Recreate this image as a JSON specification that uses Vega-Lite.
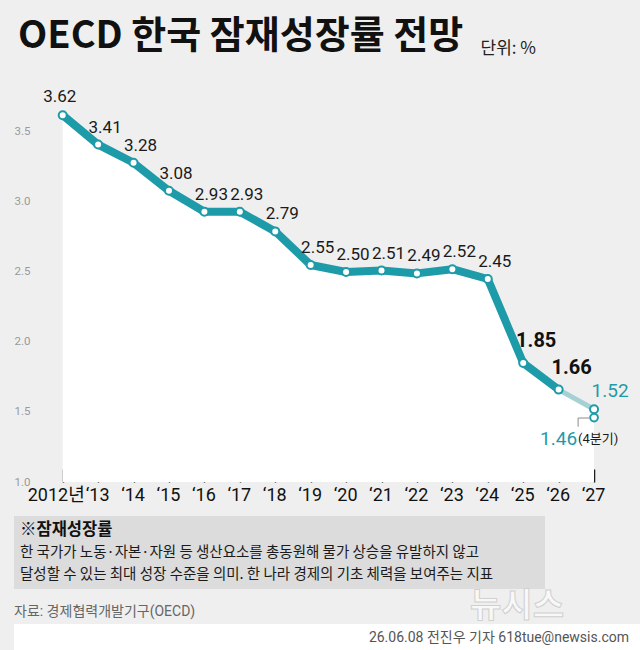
{
  "$schema": "https://vega.github.io/schema/vega-lite/v6.json",
  "background": "#efefef",
  "padding": {"left": 14, "right": 0, "top": 18, "bottom": 0},
  "config": {"view": {"stroke": null}},
  "datasets": {
    "series": [
      {"year": 2012, "value": 3.62},
      {"year": 2013, "value": 3.41},
      {"year": 2014, "value": 3.28},
      {"year": 2015, "value": 3.08},
      {"year": 2016, "value": 2.93},
      {"year": 2017, "value": 2.93},
      {"year": 2018, "value": 2.79},
      {"year": 2019, "value": 2.55},
      {"year": 2020, "value": 2.50},
      {"year": 2021, "value": 2.51},
      {"year": 2022, "value": 2.49},
      {"year": 2023, "value": 2.52},
      {"year": 2024, "value": 2.45},
      {"year": 2025, "value": 1.85},
      {"year": 2026, "value": 1.66},
      {"year": 2027, "value": 1.52}
    ],
    "q4": [
      {"year": 2027, "value": 1.46, "note": "(4분기)"}
    ],
    "leader": [
      {"year": 2026.86, "value": 1.457, "ord": 1},
      {"year": 2026.55, "value": 1.457, "ord": 2},
      {"year": 2026.55, "value": 1.395, "ord": 3}
    ],
    "grid": [
      {"value": 1.5}, {"value": 2.0}, {"value": 2.5}, {"value": 3.0}, {"value": 3.5}
    ]
  },
  "concat": [
    {
      "width": 613,
      "height": 400,
      "title": {
        "text": "OECD 한국 잠재성장률 전망",
        "anchor": "start",
        "font": "Noto Sans CJK KR",
        "fontSize": 38,
        "fontWeight": "bold",
        "color": "#111111",
        "offset": -17,
        "dx": 4
      },
      "data": {"name": "series"},
      "encoding": {
        "x": {
          "field": "year",
          "type": "quantitative",
          "scale": {"domain": [2010.625, 2027.93], "nice": false, "zero": false},
          "axis": {
            "values": [2012, 2013, 2014, 2015, 2016, 2017, 2018, 2019, 2020, 2021, 2022, 2023, 2024, 2025, 2026, 2027],
            "labelExpr": "datum.value == 2012 ? '2012년' : '‘' + slice(toString(datum.value), 2)",
            "title": " ",
            "titleFontSize": 1,
            "titlePadding": 11,
            "grid": false,
            "domain": false,
            "ticks": true,
            "tickColor": "#111111",
            "tickWidth": 1.5,
            "tickSize": -13,
            "labelPadding": 17,
            "labelOffset": {"condition": {"test": "datum.value == 2012", "value": -7}, "value": -1},
            "labelFont": "Roboto, Noto Sans CJK KR, sans-serif",
            "labelFontSize": 18,
            "labelColor": "#111111",
            "labelFlush": false,
            "labelOverlap": false
          }
        },
        "y": {
          "field": "value",
          "type": "quantitative",
          "scale": {"domain": [1, 3.857], "nice": false, "zero": false},
          "axis": {
            "values": [1, 1.5, 2, 2.5, 3, 3.5],
            "format": ".1f",
            "offset": -21,
            "title": "단위: %",
            "titleAngle": 0,
            "titleX": 445,
            "titleY": -34,
            "titleAlign": "left",
            "titleBaseline": "middle",
            "titleFont": "Noto Sans CJK KR",
            "titleFontSize": 17,
            "titleFontWeight": "normal",
            "titleColor": "#222222",
            "domain": false,
            "ticks": false,
            "grid": false,
            "labelPadding": 5,
            "labelFont": "Roboto, sans-serif",
            "labelFontSize": 11.5,
            "labelColor": "#9a9a9a"
          }
        }
      },
      "layer": [
        {
          "mark": {"type": "area", "color": "#ffffff", "opacity": 1},
          "encoding": {"y2": {"datum": 1}}
        },
        {
          "data": {"name": "grid"},
          "mark": {"type": "rule", "color": "#aaaaaa", "strokeWidth": 1, "strokeDash": [4, 3]},
          "encoding": {"x": {"datum": 2011.218}, "x2": {"datum": 2027.93}}
        },
        {
          "data": {"values": [{"value": 1}]},
          "mark": {"type": "rule", "color": "#111111", "strokeWidth": 2},
          "encoding": {"x": {"datum": 2011.218}, "x2": {"datum": 2027.93}}
        },
        {
          "transform": [{"filter": "datum.year <= 2026"}],
          "mark": {"type": "line", "color": "#1e9ba8", "strokeWidth": 8, "strokeJoin": "round", "strokeCap": "round"},
          "encoding": {}
        },
        {
          "transform": [{"filter": "datum.year >= 2026"}],
          "mark": {"type": "line", "color": "#a5d1d5", "strokeWidth": 5, "strokeCap": "round"},
          "encoding": {}
        },
        {
          "data": {"name": "leader"},
          "mark": {"type": "line", "color": "#8a8a8a", "strokeWidth": 1},
          "encoding": {"order": {"field": "ord", "type": "quantitative"}}
        },
        {
          "mark": {"type": "point", "shape": "circle", "filled": true, "fill": "#ffffff", "stroke": "#1e9ba8", "strokeWidth": 2, "size": 64, "opacity": 1},
          "encoding": {}
        },
        {
          "data": {"name": "q4"},
          "mark": {"type": "point", "shape": "circle", "filled": true, "fill": "#ffffff", "stroke": "#1e9ba8", "strokeWidth": 2, "size": 60, "opacity": 1},
          "encoding": {}
        },
        {
          "transform": [{"filter": "datum.year == 2012"}],
          "mark": {"type": "text", "font": "Roboto, sans-serif", "fontSize": 17, "color": "#1a1a1a", "baseline": "middle", "dx": -3, "dy": -18},
          "encoding": {"text": {"field": "value", "format": ".2f"}}
        },
        {
          "transform": [{"filter": "datum.year >= 2013 && datum.year <= 2024"}],
          "mark": {"type": "text", "font": "Roboto, sans-serif", "fontSize": 17, "color": "#1a1a1a", "baseline": "middle", "dx": 7, "dy": -17},
          "encoding": {"text": {"field": "value", "format": ".2f"}}
        },
        {
          "transform": [{"filter": "datum.year == 2025 || datum.year == 2026"}],
          "mark": {"type": "text", "font": "Roboto, sans-serif", "fontSize": 20, "fontWeight": "bold", "color": "#111111", "baseline": "middle", "dx": 13, "dy": -22},
          "encoding": {"text": {"field": "value", "format": ".2f"}}
        },
        {
          "transform": [{"filter": "datum.year == 2027"}],
          "mark": {"type": "text", "font": "Roboto, sans-serif", "fontSize": 19, "color": "#1e9ba8", "baseline": "middle", "dx": 16, "dy": -18},
          "encoding": {"text": {"field": "value", "format": ".2f"}}
        },
        {
          "data": {"name": "q4"},
          "mark": {"type": "text", "font": "Roboto, sans-serif", "fontSize": 19, "color": "#1e9ba8", "align": "right", "baseline": "middle", "dx": -17, "dy": 21},
          "encoding": {"text": {"field": "value", "format": ".2f"}}
        },
        {
          "data": {"name": "q4"},
          "mark": {"type": "text", "font": "Roboto, Noto Sans CJK KR, sans-serif", "fontSize": 13, "color": "#1a1a1a", "align": "left", "baseline": "middle", "dx": -16, "dy": 21},
          "encoding": {"text": {"field": "note"}}
        }
      ]
    },
    {
      "width": 531,
      "height": 73,
      "view": {"fill": "#dcdcdc", "stroke": null},
      "data": {"values": [
        {"line": 1, "text": "※잠재성장률"},
        {"line": 2, "text": "한 국가가 노동·자본·자원 등 생산요소를 총동원해 물가 상승을 유발하지 않고"},
        {"line": 3, "text": "달성할 수 있는 최대 성장 수준을 의미. 한 나라 경제의 기초 체력을 보여주는 지표"}
      ]},
      "encoding": {
        "x": {"datum": 1, "type": "quantitative", "scale": {"domain": [0, 88.5]}, "axis": null},
        "y": {"field": "line", "type": "ordinal", "scale": {"type": "point", "padding": 0.65}, "axis": null},
        "text": {"field": "text"}
      },
      "layer": [
        {
          "transform": [{"filter": "datum.line == 1"}],
          "mark": {"type": "text", "align": "left", "baseline": "middle", "font": "Noto Sans CJK KR", "fontSize": 16.5, "fontWeight": "bold", "color": "#111111"}
        },
        {
          "transform": [{"filter": "datum.line >= 2"}],
          "mark": {"type": "text", "align": "left", "baseline": "middle", "font": "Noto Sans CJK KR", "fontSize": 14.5, "color": "#1a1a1a"}
        }
      ]
    },
    {
      "width": 626,
      "height": 35,
      "data": {"values": [
        {"kind": "source", "pos": 0, "text": "자료: 경제협력개발기구(OECD)"},
        {"kind": "mark", "pos": 503, "text": "뉴시스"}
      ]},
      "encoding": {
        "x": {"field": "pos", "type": "quantitative", "scale": {"domain": [0, 626]}, "axis": null},
        "text": {"field": "text"}
      },
      "layer": [
        {
          "transform": [{"filter": "datum.kind == 'mark'"}],
          "mark": {"type": "text", "align": "center", "baseline": "middle", "font": "Noto Sans CJK KR", "fontSize": 34, "fontWeight": "bold", "fill": "#f8f8f8", "stroke": "#d0d0d0", "strokeWidth": 1}
        },
        {
          "transform": [{"filter": "datum.kind == 'source'"}],
          "mark": {"type": "text", "align": "left", "baseline": "middle", "dy": 5, "font": "Roboto, Noto Sans CJK KR, sans-serif", "fontSize": 14, "color": "#666666"}
        }
      ]
    },
    {
      "width": 626,
      "height": 27,
      "view": {"fill": "#ffffff", "stroke": null},
      "data": {"values": [{"pos": 615, "text": "26.06.08 전진우 기자 618tue@newsis.com"}]},
      "mark": {"type": "text", "align": "right", "baseline": "middle", "font": "Roboto, Noto Sans CJK KR, sans-serif", "fontSize": 14, "color": "#555555"},
      "encoding": {
        "x": {"field": "pos", "type": "quantitative", "scale": {"domain": [0, 626]}, "axis": null},
        "text": {"field": "text"}
      }
    }
  ],
  "columns": 1,
  "spacing": 0
}
